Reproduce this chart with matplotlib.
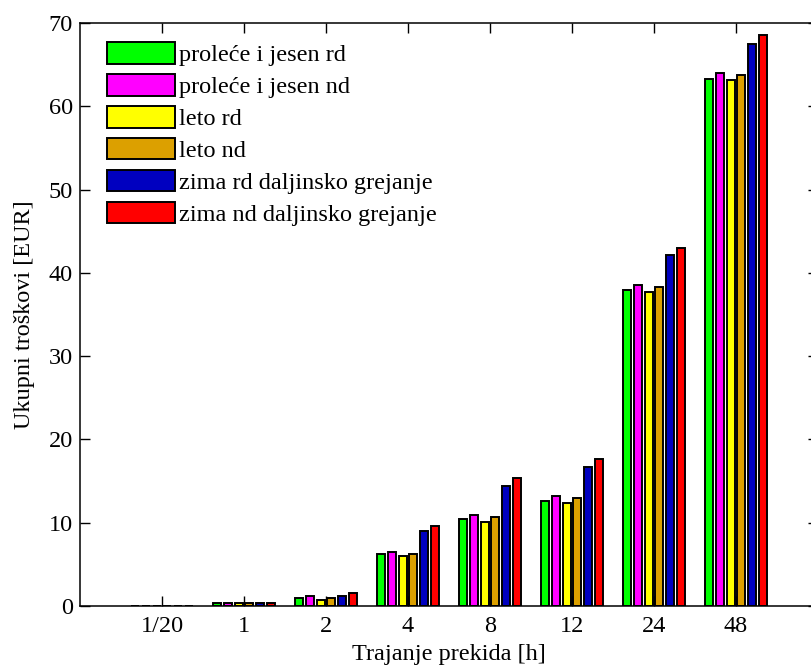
import numpy as np
import matplotlib
matplotlib.use('Agg')
import matplotlib.pyplot as plt

# trajanje prekida (kategorije)
categories = ['1/20', '1', '2', '4', '8', '12', '24', '48']

# ukupni troskovi [EUR] po scenariju
prolece_jesen_rd = [0.0, 0.35, 0.95, 6.3, 10.5, 12.6, 37.9, 63.3]
prolece_jesen_nd = [0.0, 0.35, 1.15, 6.5, 10.9, 13.2, 38.5, 64.0]
leto_rd = [0.0, 0.35, 0.75, 6.05, 10.1, 12.4, 37.7, 63.1]
leto_nd = [0.0, 0.35, 0.95, 6.25, 10.7, 13.0, 38.3, 63.7]
zima_rd_dg = [0.0, 0.35, 1.2, 8.95, 14.4, 16.7, 42.2, 67.5]
zima_nd_dg = [0.0, 0.35, 1.6, 9.55, 15.4, 17.7, 43.0, 68.5]

series = [prolece_jesen_rd, prolece_jesen_nd, leto_rd, leto_nd, zima_rd_dg, zima_nd_dg]
labels = ['proleće i jesen rd', 'proleće i jesen nd', 'leto rd', 'leto nd',
          'zima rd daljinsko grejanje', 'zima nd daljinsko grejanje']
colors = ['#00FF00', '#FF00FF', '#FFFF00', '#DCA000', '#0000C0', '#FF0000']

plt.rcParams['font.family'] = ['Liberation Serif', 'DejaVu Serif']
fs = 17.5

W, H = 811, 668
fig = plt.figure(figsize=(W / 100, H / 100), dpi=100)
# axes box in pixels: left 80, right 818 (just past the image), top 23, bottom 606
ax = fig.add_axes([80 / W, (H - 606) / H, (818 - 80) / W, (606 - 23) / H])

x = np.arange(1, len(categories) + 1)
step = 0.1305
bw = 0.098
for i, (vals, lab, col) in enumerate(zip(series, labels, colors)):
    off = (i - 2.5) * step
    ax.bar(x + off, vals, width=bw, color=col, edgecolor='black', linewidth=1.4,
           label=lab, zorder=2)

ax.set_xlim(0, 9)
ax.set_ylim(0, 70)
ax.set_xticks(x)
ax.set_xticklabels(categories)
ax.set_yticks(np.arange(0, 71, 10))
ax.tick_params(direction='in', length=7, width=1.0, top=True, right=True,
               labelsize=fs)
ax.tick_params(axis='y', pad=5)
ax.tick_params(axis='x', pad=7)
for sp in ax.spines.values():
    sp.set_linewidth(1.1)
    sp.set_zorder(5)
ax.set_axisbelow(False)

ax.set_xlabel('Trajanje prekida [h]', fontsize=fs, labelpad=5)
ax.set_ylabel('Ukupni troškovi [EUR]', fontsize=fs, labelpad=10)

ax.legend(loc='upper left', bbox_to_anchor=(0.0195, 0.988), frameon=False,
          borderpad=0, handlelength=2.8, handleheight=0.99, handletextpad=0.2,
          labelspacing=0.32, fontsize=fs)

fig.savefig('out.png', dpi=100)
